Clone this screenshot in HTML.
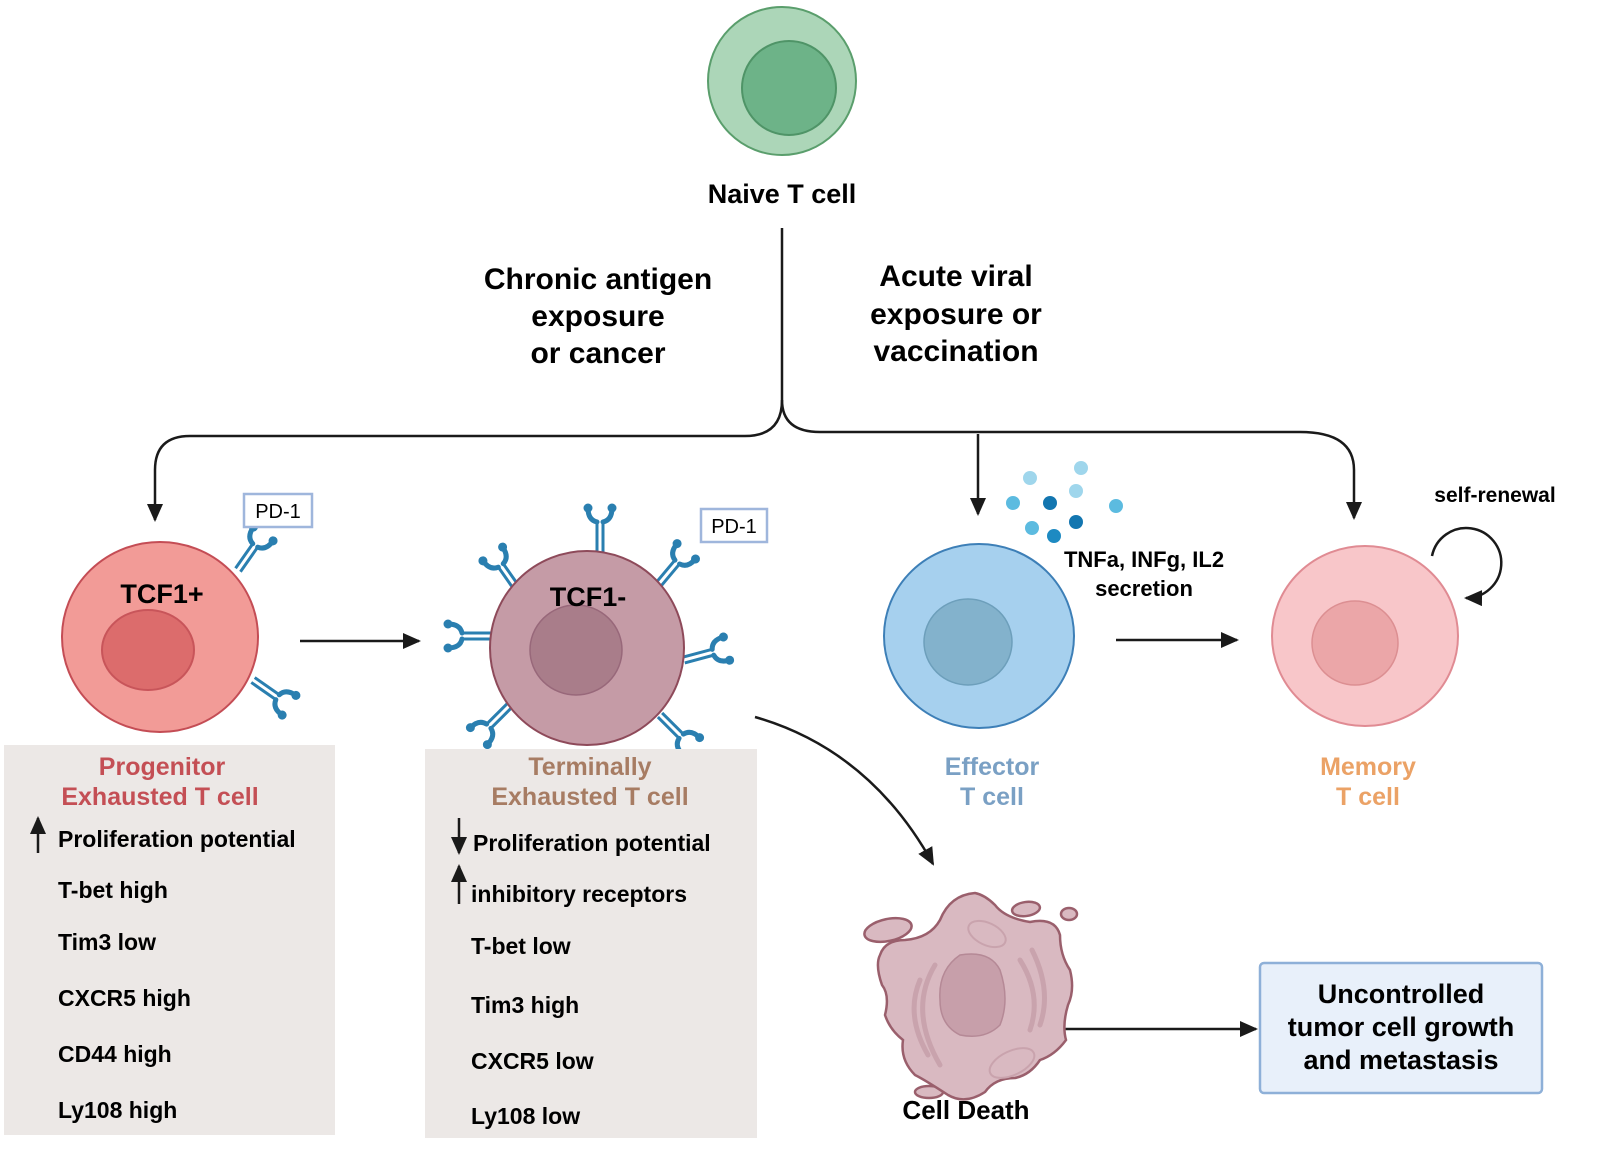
<!DOCTYPE html>
<html><head><meta charset="utf-8"><style>
html,body{margin:0;padding:0;background:#fff}
svg{display:block}
text{font-family:"Liberation Sans",Arial,sans-serif;font-weight:bold}
</style></head><body>
<svg width="1600" height="1165" viewBox="0 0 1600 1165" xmlns="http://www.w3.org/2000/svg">
<defs>
<marker id="ah" markerWidth="18" markerHeight="16" refX="16" refY="8" orient="auto" markerUnits="userSpaceOnUse" viewBox="0 0 18 16">
<path d="M0,0 L18,8 L0,16 z" fill="#1a1a1a"/></marker>
<g id="ab">
<line x1="-3" y1="0" x2="-3" y2="-30" stroke="#2a7fb0" stroke-width="3"/>
<line x1="3" y1="0" x2="3" y2="-30" stroke="#2a7fb0" stroke-width="3"/>
<path d="M-3,-30 Q-12,-32 -12,-44" fill="none" stroke="#2a7fb0" stroke-width="5" stroke-linecap="round"/>
<path d="M3,-30 Q12,-32 12,-44" fill="none" stroke="#2a7fb0" stroke-width="5" stroke-linecap="round"/>
<circle cx="-12" cy="-44" r="4.5" fill="#2a7fb0"/><circle cx="12" cy="-44" r="4.5" fill="#2a7fb0"/>
</g>
</defs>

<!-- Naive -->
<circle cx="782" cy="81" r="74" fill="#acd6b8" stroke="#5a9e6c" stroke-width="2"/>
<circle cx="789" cy="88" r="47" fill="#6db388" stroke="#4f9467" stroke-width="2"/>
<text x="782" y="203" font-size="27" text-anchor="middle">Naive T cell</text>

<text font-size="30" text-anchor="middle"><tspan x="598" y="289">Chronic antigen</tspan><tspan x="598" y="326">exposure</tspan><tspan x="598" y="363">or cancer</tspan></text>
<text font-size="30" text-anchor="middle"><tspan x="956" y="286">Acute viral</tspan><tspan x="956" y="324">exposure or</tspan><tspan x="956" y="361">vaccination</tspan></text>

<!-- connectors -->
<g fill="none" stroke="#1a1a1a" stroke-width="2.5">
<line x1="782" y1="228" x2="782" y2="400"/>
<path d="M782,400 Q782,436 745,436 L190,436 Q155,436 155,470 L155,520" marker-end="url(#ah)"/>
<path d="M782,400 Q782,432 820,432 L1300,432 Q1354,432 1354,470 L1354,518" marker-end="url(#ah)"/>
<line x1="978" y1="434" x2="978" y2="514" marker-end="url(#ah)"/>
<line x1="300" y1="641" x2="419" y2="641" marker-end="url(#ah)"/>
<line x1="1116" y1="640" x2="1237" y2="640" marker-end="url(#ah)"/>
<path d="M755,717 Q870,750 933,864" marker-end="url(#ah)"/>
<line x1="1062" y1="1029" x2="1256" y2="1029" marker-end="url(#ah)"/>
<path d="M1432,556 A35,35 0 1 1 1466,598" marker-end="url(#ah)"/>
</g>

<!-- TCF1+ -->
<use href="#ab" transform="translate(238,570) rotate(35)"/>
<use href="#ab" transform="translate(253,680) rotate(125)"/>
<ellipse cx="160" cy="637" rx="98" ry="95" fill="#f29b97" stroke="#c44d55" stroke-width="2"/>
<ellipse cx="148" cy="650" rx="46" ry="40" fill="#dc6c6c" stroke="#c8555a" stroke-width="2"/>
<text x="162" y="603" font-size="27" text-anchor="middle">TCF1+</text>
<rect x="244" y="494" width="68" height="33" fill="#fff" stroke="#9fb6dc" stroke-width="2.5"/>
<text x="278" y="518" font-size="20" text-anchor="middle" style="font-weight:normal">PD-1</text>

<!-- TCF1- -->
<use href="#ab" transform="translate(600,552) rotate(0)"/>
<use href="#ab" transform="translate(518,590) rotate(-35)"/>
<use href="#ab" transform="translate(658,585) rotate(40)"/>
<use href="#ab" transform="translate(492,636) rotate(-90)"/>
<use href="#ab" transform="translate(684,660) rotate(75)"/>
<use href="#ab" transform="translate(510,705) rotate(-135)"/>
<use href="#ab" transform="translate(660,715) rotate(135)"/>
<ellipse cx="587" cy="648" rx="97" ry="97" fill="#c59ba6" stroke="#8e4a5a" stroke-width="2"/>
<ellipse cx="576" cy="650" rx="46" ry="45" fill="#a97d8a" stroke="#98687a" stroke-width="1.5"/>
<text x="588" y="606" font-size="27" text-anchor="middle">TCF1-</text>
<rect x="701" y="509" width="66" height="33" fill="#fff" stroke="#9fb6dc" stroke-width="2.5"/>
<text x="734" y="533" font-size="20" text-anchor="middle" style="font-weight:normal">PD-1</text>

<!-- Effector -->
<ellipse cx="979" cy="636" rx="95" ry="92" fill="#a6d0ee" stroke="#3d7fb7" stroke-width="2"/>
<ellipse cx="968" cy="642" rx="44" ry="43" fill="#83b2cc" stroke="#6d9fbb" stroke-width="1.5"/>
<g>
<circle cx="1030" cy="478" r="7" fill="#9fd6ec"/><circle cx="1081" cy="468" r="7" fill="#9fd6ec"/>
<circle cx="1076" cy="491" r="7" fill="#9fd6ec"/><circle cx="1116" cy="506" r="7" fill="#5cbbe0"/>
<circle cx="1013" cy="503" r="7" fill="#5cbbe0"/><circle cx="1050" cy="503" r="7" fill="#1376b0"/>
<circle cx="1076" cy="522" r="7" fill="#1376b0"/><circle cx="1032" cy="528" r="7" fill="#5cbbe0"/>
<circle cx="1054" cy="536" r="7" fill="#1d8ac2"/>
</g>
<text font-size="22" text-anchor="middle"><tspan x="1144" y="567">TNFa, INFg, IL2</tspan><tspan x="1144" y="596">secretion</tspan></text>

<!-- Memory -->
<ellipse cx="1365" cy="636" rx="93" ry="90" fill="#f8c6c9" stroke="#e08b93" stroke-width="2"/>
<ellipse cx="1355" cy="643" rx="43" ry="42" fill="#eba6a8" stroke="#dc8f92" stroke-width="1.5"/>
<text x="1495" y="502" font-size="21" text-anchor="middle">self-renewal</text>

<!-- labels -->
<text font-size="25" text-anchor="middle"><tspan x="992" y="775" fill="#7aa0c4">Effector</tspan><tspan x="992" y="805" fill="#7aa0c4">T cell</tspan></text>
<text font-size="25" text-anchor="middle"><tspan x="1368" y="775" fill="#eba266">Memory</tspan><tspan x="1368" y="805" fill="#eba266">T cell</tspan></text>

<!-- left box -->
<rect x="4" y="745" width="331" height="390" fill="#ece8e6"/>
<text font-size="25" text-anchor="middle" fill="#c44f55"><tspan x="162" y="775">Progenitor</tspan><tspan x="160" y="805">Exhausted T cell</tspan></text>
<text x="58" y="847" font-size="23">Proliferation potential</text>
<text x="58" y="898" font-size="23">T-bet high</text>
<text x="58" y="950" font-size="23">Tim3 low</text>
<text x="58" y="1006" font-size="23">CXCR5 high</text>
<text x="58" y="1062" font-size="23">CD44 high</text>
<text x="58" y="1118" font-size="23">Ly108 high</text>
<line x1="38" y1="853" x2="38" y2="818" stroke="#1a1a1a" stroke-width="2.5" marker-end="url(#ah)"/>

<!-- mid box -->
<rect x="425" y="749" width="332" height="389" fill="#ece8e6"/>
<text font-size="25" text-anchor="middle" fill="#a77c63"><tspan x="590" y="775">Terminally</tspan><tspan x="590" y="805">Exhausted T cell</tspan></text>
<text x="473" y="851" font-size="23">Proliferation potential</text>
<text x="471" y="902" font-size="23">inhibitory receptors</text>
<text x="471" y="954" font-size="23">T-bet low</text>
<text x="471" y="1013" font-size="23">Tim3 high</text>
<text x="471" y="1069" font-size="23">CXCR5 low</text>
<text x="471" y="1124" font-size="23">Ly108 low</text>
<line x1="459" y1="818" x2="459" y2="853" stroke="#1a1a1a" stroke-width="2.5" marker-end="url(#ah)"/>
<line x1="459" y1="904" x2="459" y2="866" stroke="#1a1a1a" stroke-width="2.5" marker-end="url(#ah)"/>

<!-- cell death -->
<g stroke="#9a5f6c" stroke-width="2.5" fill="#d9b9c1">
<ellipse cx="888" cy="930" rx="24" ry="11" transform="rotate(-12 888 930)"/>
<ellipse cx="1026" cy="909" rx="14" ry="7" transform="rotate(-8 1026 909)"/>
<ellipse cx="1069" cy="914" rx="8" ry="6"/>
<ellipse cx="929" cy="1092" rx="14" ry="6"/>
<path d="M975,893 Q985,895 995,905 Q1005,918 1030,922 Q1055,917 1060,935 Q1060,955 1070,970 Q1075,990 1068,1005 Q1062,1025 1066,1040 Q1055,1055 1040,1060 Q1030,1075 1015,1078 Q995,1078 985,1092 Q965,1105 948,1095 Q925,1080 915,1075 Q900,1060 903,1040 Q890,1030 885,1015 Q890,995 882,985 Q875,965 880,955 Q885,940 905,940 Q930,938 940,920 Q950,895 975,893 Z"/>
</g>
<path d="M960,955 Q990,950 1000,970 Q1010,1000 1000,1025 Q985,1040 960,1035 Q940,1025 940,1000 Q938,970 960,955 Z" fill="#c79faa" stroke="#b58996" stroke-width="1.5"/>
<g fill="none" stroke="#c9a3ad" stroke-width="5" stroke-linecap="round">
<path d="M935,965 Q908,1010 940,1065"/><path d="M920,980 Q905,1015 928,1055"/>
<path d="M1020,960 Q1042,995 1030,1030"/><path d="M1032,950 Q1052,990 1040,1025"/>
</g>
<ellipse cx="987" cy="934" rx="20" ry="11" transform="rotate(25 987 934)" fill="none" stroke="#c9a3ad" stroke-width="2"/>
<ellipse cx="1012" cy="1063" rx="24" ry="12" transform="rotate(-25 1012 1063)" fill="none" stroke="#c9a3ad" stroke-width="2"/>
<text x="966" y="1119" font-size="26" text-anchor="middle">Cell Death</text>

<!-- outcome box -->
<rect x="1260" y="963" width="282" height="130" rx="4" fill="#e8f0fa" stroke="#8eb0d8" stroke-width="2.5"/>
<text font-size="27" text-anchor="middle"><tspan x="1401" y="1003">Uncontrolled</tspan><tspan x="1401" y="1036">tumor cell growth</tspan><tspan x="1401" y="1069">and metastasis</tspan></text>
</svg>
</body></html>
